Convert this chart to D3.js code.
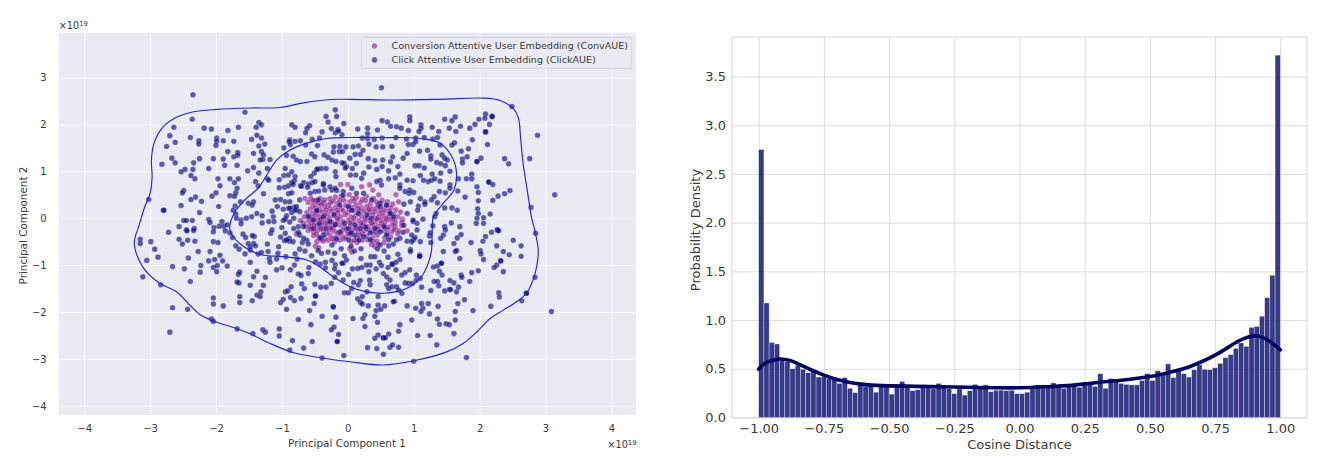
<!DOCTYPE html>
<html>
<head>
<meta charset="utf-8">
<script src="https://cdn.jsdelivr.net/npm/d3@7"></script>
<style>
html,body{margin:0;padding:0;background:#fff}
svg{display:block}
text{font-family:"DejaVu Sans",sans-serif;fill:#3a3a3a}
</style>
</head>
<body>
<svg id="fig" width="1326" height="471"></svg>
<script>
// Principal component coordinates, in units of 1e19.
const clickPoints = [
[-2.35,2.63],[-2.36,2.11],[-2.64,1.94],[-2.70,1.76],[-2.62,1.62],[-2.75,1.53],[-2.67,1.28],[-2.62,1.18],[-2.82,1.15],[-3.02,0.40],[-2.80,.17],[-2.79,.17],[-2.39,1.72],[-2.26,1.65],[-2.26,1.58],[-2.18,1.92],[-2.07,1.90],[-1.82,1.87],[-1.66,1.94],[-1.99,1.71],[-1.99,1.64],[-2.0,1.55],[-1.89,1.65],[-1.73,1.64],[-1.56,2.26],[-1.46,1.68],[-1.38,1.77],[-1.31,1.71],[-1.39,1.94],[-1.35,2.04],[-1.31,1.99],[-1.26,1.58],[-1.35,1.54],[-1.82,1.42],[-1.67,1.40],[-1.67,1.34],[-1.89,1.26],[-2.04,1.27],[-2.25,1.27],[-2.34,1.18],[-2.35,1.04],[-2.47,1.04],[-2.53,.99],[-2.38,.91],[-2.32,.84],[-2.11,1.06],[-1.87,1.13],[-1.68,1.13],[-1.73,1.31],[-1.43,1.38],[-1.31,1.42],[-1.28,1.35],[-1.29,1.25],[-1.33,1.24],[-1.43,1.08],[-1.52,1.01],[-1.35,.96],[-1.22,1.06],[-1.18,1.25],[-1.97,.84],[-1.94,.69],[-1.79,.84],[-1.72,.76],[-1.66,.84],[-1.68,.64],[-1.70,.54],[-1.79,.48],[-1.72,.47],[-2.0,.54],[-2.06,.47],[-2.49,.59],[-2.51,.54],[-2.31,.45],[-2.38,.40],[-2.22,.36],[-2.53,.27],[-1.96,.25],[-2.25,.12],[-2.49,-.05],[-2.45,-.05],[-2.36,-.05],[-2.11,-.03],[-2.09,-.09],[-1.91,-.07],[-1.95,-.17],[-1.88,-.17],[-1.83,-.14],[-2.56,-.18],[-2.45,-.25],[-2.33,-.22],[-2.03,-.2],[-1.63,.35],[-1.71,.26],[-1.74,.17],[-1.70,.09],[-1.69,0],[-1.51,.32],[-1.43,.35],[-1.45,.28],[-1.62,-.04],[-1.62,-.12],[-1.54,0],[-1.46,.03],[-1.38,.10],[-1.30,.05],[-1.30,-.10],[-1.20,-.07],[-1.13,.03],[-1.12,-.07],[-1.15,.15],[-1.28,.52],[-1.40,.78],[-1.36,.69],[-1.22,.84],[-1.20,.81],
[-.19,2.31],[-.33,2.17],[-.17,2.17],[-.30,2.05],[-.06,2.02],[-.85,1.99],[-.80,1.94],[-.58,1.97],[-.62,1.91],[-.64,1.82],[-.39,1.84],[-.25,1.91],[-.15,1.89],[-.19,1.82],[-.09,1.78],[-.14,1.86],[-.88,1.67],[-.89,1.63],[-.80,1.64],[-.72,1.65],[-.54,1.68],[-.43,1.71],[-.97,1.50],[-.87,1.57],[-.64,1.56],[-.46,1.55],[-.93,1.34],[-.83,1.32],[-.78,1.24],[-.72,1.21],[-.62,1.21],[-.55,1.37],[-.50,1.31],[-.36,1.35],[-.30,1.30],[-.24,1.24],[-.18,1.21],[-.21,1.52],[-.22,1.41],[-.12,1.53],[-.13,1.42],[-.03,1.52],[-.08,1.42],[-.09,1.18],[-.06,1.17],[-.02,1.10],[-.95,1.06],[-.40,1.06],[-.33,1.06],[-.45,1.05],[-.51,.96],[-.47,1.04],[-.19,.99],[-.18,.89],[-.04,1.07],[-.97,.91],[-.90,.92],[-.85,.99],[-.80,.89],[-.81,.80],[-.85,.76],[-1.04,.82],[-1.04,.65],[-.96,.66],[-.90,.69],[-.83,.72],[-.72,.69],[-.67,.76],[-.60,.73],[-.61,.66],[-.70,.68],[-.54,.76],[-.90,.52],[-.85,.54],[-.37,.74],[-.24,.6],[-.17,.59],[-.07,.57],[-.50,.57],[-.44,.58],[-.35,.6],[-.57,.53],[-1.10,.39],[-1.02,.40],[-1.07,.25],[-.98,.19],[-.90,.21],[-.82,.23],[-.78,.18],[-.82,0],[-.73,.39],[-.98,-.05],[-.88,-.08],[-.95,-.02],[-.75,-.18],
[-3.15,-.45],[-3.15,-.54],[-2.99,-.5],[-2.93,-.66],[-3.05,-.90],[-2.88,-.83],[-3.11,-1.25],[-2.84,-1.42],[-2.66,-1.03],[-2.48,-1.08],[-2.66,-1.91],[-2.43,-1.94],[-2.70,-2.43],[-2.39,-1.35],[-2.42,-.85],[-2.27,-.71],[-2.56,-.45],[-2.51,-.55],[-2.43,-.47],[-2.32,-.49],[-2.72,-.30],[-2.44,-.27],[-2.34,-.26],[-2.04,-.50],[-1.97,-.52],[-2.09,-.71],[-1.94,-.79],[-2.02,-.88],[-1.90,-.91],[-2.11,-.91],[-2.23,-1.01],[-2.04,-1.05],[-1.98,-1.01],[-1.83,-1.02],[-2.24,-1.15],[-1.99,-1.14],[-2.04,-1.70],[-2.04,-1.83],[-1.89,-1.87],[-2.07,-2.15],[-2.04,-2.20],[-1.68,-2.36],[-1.44,-2.46],[-1.29,-2.38],[-1.25,-2.43],[-1.04,-2.36],[-1.04,-2.51],[-.84,-2.61],[-.88,-2.81],[-.67,-2.77],[-.54,-2.63],[-.39,-2.98],[-.06,-2.93],[-.16,-2.63],[-.16,-2.63],[-.21,-2.32],[-.25,-2.38],[-.14,-2.48],[-.75,-2.16],[-.56,-2.27],[-.39,-2.09],[-.18,-2.11],[-.22,-1.89],[-.22,-1.89],[-.58,-1.97],[-.93,-1.94],[-.51,-1.82],[-.49,-1.66],[-.49,-1.66],[-.71,-1.71],[-1.02,-1.80],[-.98,-1.73],[-.87,-1.69],[-.81,-1.76],[-.95,-1.57],[-.91,-1.55],[-.86,-1.46],[-.66,-1.50],[-.70,-1.40],[-.50,-1.41],[-.41,-1.47],[-.33,-1.47],[-.25,-1.39],[-.05,-1.59],[.01,-1.59],[-1.64,-1.67],[-1.64,-1.80],[-1.45,-1.76],[-1.38,-1.64],[-1.33,-1.67],[-1.32,-1.57],[-1.28,-1.43],[-1.48,-1.43],[-1.65,-1.38],[-1.68,-1.36],[-1.66,-1.2],[-1.64,-1.15],[-1.38,-1.13],[-1.43,-1.25],[-1.25,-1.26],[-1.08,-1.1],[-1.0,-1.06],[-.87,-1.1],[-.81,-1.0],[-.75,-1.19],[-.71,-1.22],[-.6,-1.18],[-.59,-1.05],[-.49,-.93],[-.42,-.98],[-.34,-.94],[-.34,-1.06],[-.24,-.90],[-.19,-.99],[-.2,-1.08],[-.14,-1.16],[-.2,-1.26],[-.07,-1.32],[.01,-1.2],[-.07,-.96],[-.09,-.96],[-.02,-.89],[-1.48,-.94],[-1.65,-.66],[-1.70,-.59],[-1.56,-.76],[-1.48,-.68],[-1.36,-.76],[-1.31,-.73],[-1.21,-.71],[-1.06,-.75],[-1.19,-.86],[-1.18,-.94],[-1.08,-.87],[-.94,-.82],[-.77,-.87],[-.80,-.76],[-.73,-.66],[-.45,-.69],[-1.05,-.61],[-.96,-.48],[-.89,-.43],[-.89,-.49],[-.69,-.52],[-.62,-.47],[-1.22,-.55],[-1.51,-.54],[-1.43,-.54],[-1.40,-.59],[-1.48,-.61],[-1.42,-.39],[-1.45,-.37],[-1.55,-.41],[-1.59,-.34],[-1.17,-.32],[-1.75,-.41],[-1.86,-.27],[-1.79,-.31],[-2.04,-.29],
[.51,2.78],[2.49,2.38],[2.88,1.77],[2.19,2.17],[2.19,2.17],[2.09,2.22],[2.08,2.13],[1.99,2.11],[2.15,2.0],[2.09,1.84],[2.09,1.84],[1.93,2.0],[1.85,1.92],[1.89,1.67],[1.63,2.16],[1.58,2.08],[1.47,2.11],[1.71,1.96],[1.54,1.92],[1.64,1.85],[1.38,1.85],[1.28,1.94],[1.11,1.99],[1.11,1.92],[1.08,1.85],[.92,1.87],[.94,2.16],[.94,2.08],[.52,2.08],[.60,2.05],[.65,1.96],[.74,1.95],[.81,1.92],[.15,1.90],[.30,1.92],[.30,1.80],[.45,1.88],[.22,1.71],[.30,1.70],[.40,1.68],[.52,1.71],[.73,1.72],[.89,1.69],[1.03,1.71],[1.16,1.72],[1.29,1.69],[1.36,1.72],[.92,1.57],[.99,1.57],[1.03,1.63],[.32,1.58],[.43,1.52],[.53,1.52],[.67,1.53],[1.09,1.43],[1.21,1.45],[1.62,1.61],[1.58,1.56],[2.12,1.57],[1.83,1.48],[1.72,1.43],[1.40,1.56],[1.43,1.35],[1.51,1.24],[1.47,1.28],[1.26,1.33],[1.26,1.26],[1.74,1.26],[1.74,1.18],[1.81,1.31],[1.96,1.21],[1.96,1.21],[2.02,1.28],[2.38,1.27],[2.44,1.16],[2.76,1.27],[.90,1.38],[.84,1.28],[.68,1.31],[.08,1.52],[.16,1.54],[.23,1.45],[.19,1.36],[.11,1.36],[.03,1.28],[.13,1.17],[.31,1.27],[.41,1.23],[.53,1.24],[.65,1.2],[.32,1.09],[.44,1.04],[.52,1.10],[.62,1.01],[.76,1.10],[1.02,1.12],[1.08,1.12],[1.16,1.07],[1.35,1.19],[1.41,1.16],[1.48,1.12],[1.55,1.0],[1.41,.96],[1.28,.94],[1.10,.91],[1.15,.81],[1.22,.78],[1.27,.81],[1.32,.84],[1.40,.79],[.79,.94],[.72,.86],[.62,.84],[.49,.81],[.51,.71],[.44,.78],[.21,.85],[.24,.96],[.12,.92],[.07,1.06],[.04,.92],[.99,.80],[.90,.81],[.79,.71],[.79,.64],[1.55,.71],[1.55,.64],[1.68,.84],[1.80,.84],[1.88,.94],[1.88,.84],[1.96,.67],[1.98,.55],[1.78,.45],[1.67,.58],[2.14,.77],[2.14,.77],[2.2,.72],[2.46,.59],[2.38,.52],[2.28,.47],[2.2,.38],[3.14,.50],[2.78,.23],[1.98,.37],[1.97,.2],[1.98,.1],[1.96,0],[2.16,.09],[2.06,.01],[1.47,.22],[1.58,.22],[1.66,.17],[1.57,-.1],[1.48,.54],[1.39,.57],[1.31,.46],[1.36,.33],[1.27,.39],[1.17,.35],[1.17,.30],[1.07,.26],[1.06,.17],[.94,.6],[.93,.53],[.87,.57],[.99,-.07],[1.05,-.11],[1.14,-.02],[1.32,.03],[1.34,.1],[1.29,-.16],[1.47,-.18],[1.7,-.18],[1.95,-.11],[2.06,-.11],[2.27,-.25],[2.27,-.25],
[3.09,-1.99],[2.71,-1.6],[2.71,-1.6],[2.64,-1.76],[2.84,-1.26],[2.85,-.32],[2.63,-.59],[2.63,-.81],[2.51,-.47],[2.45,-.78],[2.36,-.71],[2.32,-.91],[2.32,-.91],[2.36,-1.14],[2.26,-1.0],[2.22,-1.05],[2.29,-1.59],[2.30,-1.68],[2.17,-1.88],[1.80,-2.97],[1.0,-3.05],[.54,-2.9],[.30,-2.76],[.44,-2.78],[.64,-2.75],[.68,-2.7],[.77,-2.75],[1.35,-2.7],[1.06,-2.5],[1.25,-2.5],[1.61,-2.46],[.54,-2.55],[.54,-2.55],[.57,-2.55],[.62,-2.47],[.46,-2.49],[.41,-2.56],[.77,-2.41],[.79,-2.27],[.26,-2.31],[.97,-2.17],[1.36,-2.15],[1.39,-2.26],[1.49,-2.25],[1.54,-2.27],[1.63,-2.17],[1.90,-1.97],[1.63,-1.99],[1.77,-1.74],[1.67,-1.82],[1.37,-1.88],[1.24,-2.04],[1.22,-1.82],[1.14,-1.92],[1.11,-1.99],[1.03,-1.92],[.90,-1.87],[1.12,-1.82],[.71,-1.77],[.46,-1.67],[.46,-1.85],[.43,-1.97],[.50,-1.94],[.56,-1.87],[.41,-2.09],[.45,-2.22],[.26,-2.06],[.23,-2.14],[.08,-2.14],[.15,-1.72],[.19,-1.79],[.22,-1.83],[.31,-1.87],[.22,-1.67],[1.26,-1.54],[1.12,-1.47],[1.47,-1.55],[1.54,-1.52],[1.56,-1.52],[1.65,-1.57],[1.68,-1.47],[1.31,-1.35],[1.36,-1.35],[1.38,-1.44],[1.55,-1.33],[1.61,-1.38],[1.85,-1.35],[1.72,-1.21],[1.73,-1.26],[1.88,-1.16],[1.98,-1.12],[1.39,-1.13],[1.43,-1.21],[1.30,-1.04],[1.36,-1.02],[1.42,-.96],[1.42,-.96],[1.70,-.86],[1.63,-.71],[1.65,-.69],[1.45,-.71],[1.09,-.81],[1.09,-.81],[2.01,-.69],[2.02,-.76],[2.06,-.88],[1.87,-.52],[2.05,-.49],[2.09,-.39],[2.26,-.59],[1.61,-.54],[1.66,-.42],[1.72,-.35],[2.18,-.3],[2.29,-.27],[1.45,-.36],[1.41,-.43],[1.48,-.25],[1.26,-.52],[1.24,-.38],[1.25,-.31],[1.10,-.50],[1.0,-.46],[.95,-.67],[.95,-.71],[.90,-.49],[.79,-.43],[.69,-.55],[.62,-.59],[.76,-.77],[.79,-.88],[.68,-.98],[.73,-.94],[.61,-.83],[.84,-.3],[1.02,-.41],[1.04,-1.21],[1.04,-1.32],[1.1,-1.28],[.87,-1.16],[.82,-1.21],[.94,-1.1],[.73,-1.1],[.61,-1.05],[.67,-.98],[.54,-1.18],[.59,-1.25],[.64,-1.32],[.59,-1.42],[.62,-1.5],[.67,-1.46],[.74,-1.46],[.77,-1.53],[.82,-1.6],[.87,-1.38],[.92,-1.39],[.98,-1.39],[.69,-1.78],[.48,-.94],[.51,-1.01],[.43,-1.08],[.34,-1.0],[.28,-1.0],[.21,-1.05],[.15,-1.07],[.07,-1.08],[.32,-1.14],[.2,-.86],[.35,-.82],[.41,-.82],[.19,-1.33],[.16,-1.42],[.09,-1.37],[.33,-1.32],[.34,-1.42],[.29,-1.57],[.06,-1.5],
[-.56,.89],[-.5,.78],[-.37,.71],[-.27,.67],[-.19,.64],[-.07,.49],[.06,.64],[.13,.53],[.24,.53],[.36,.39],[.49,.32],[.59,.28],[.69,.03],[.64,.10],[.49,.25],[-.27,-.07],[-.19,-.14],[.01,-.22],[.11,-.14],[.19,-.22],[-.24,-.57],[.01,-.46],[-.37,.03],[-.52,-.04],[-.52,-.22],[-.67,-.18],[-.73,-.36],[-.67,-.43],[-.83,-.5],[-.93,-.46],[-.80,.17],[-.78,.25],[-.88,.21],[-.95,.35],[-.73,.14],[.49,-.29],[.41,-.22],[.62,-.46],[.59,-.36],[.74,-.46],[.97,-.5],[.97,-.36],[.99,-.04],[1.05,-.25],[.01,.25],[.29,.07],[-.12,.28],[.16,.10],[.36,0],[.11,-.36],[-.12,-.29],[.24,-.39],[.34,-.46],[.49,-.57],[-.37,-.36],[-.47,.17],[-.45,.39],
[-.88,.35],[-.93,.05],[-.85,.12],[-1.0,-.2],[-1.15,-.25],[-.82,-.22],[-.95,-.32],[-1.02,-.4],[-.75,-.3],[-.60,-.55],[-.65,-.7],[-.55,-.8],[-.4,-.75],[-.3,-.72],[-.2,-.75],[-.1,-.65],[-.05,-.8],[.1,-.7],[.2,-.65],[.05,-.6],[.45,-.65],[.55,-.7],[.85,-.15],[.9,.1],[.85,.3],[.95,.35],[1.1,.42],[1.0,.55],
[-.43,-.12],[-.33,-.22],[-.05,-.11],[.05,-.31],[.27,-.19],[.34,-.31],[-.21,.08],[.06,.17],[-.42,-.42],[-.17,-.44],[.17,-.47],[-.6,.04],[.55,-.18]
];

const convPoints = [
[-.11,.72],[0,.72],[.21,.67],[.33,.71],[.38,.60],[.47,.50],[.73,.50],[.77,.35],[-.65,.42],[-.56,.42],[-.49,.36],[-.42,.42],[-.35,.39],[-.27,.42],[-.19,.45],[-.10,.47],[.02,.50],[.13,.44],[.28,.46],[.39,.42],
[-.60,.34],[-.53,.28],[-.45,.31],[-.37,.34],[-.30,.28],[-.22,.36],[-.15,.31],[-.06,.38],[.03,.35],[.10,.36],[.19,.33],[.27,.37],[.34,.30],[.43,.35],[.52,.38],[.60,.35],[.68,.30],
[-.57,.20],[-.50,.22],[-.43,.20],[-.35,.25],[-.27,.21],[-.19,.23],[-.10,.20],[-.03,.27],[.06,.24],[.13,.27],[.21,.22],[.29,.25],[.37,.20],[.44,.22],[.56,.20],[.65,.22],[.73,.18],[.80,.13],
[-.62,.12],[-.54,.10],[-.46,.12],[-.39,.14],[-.31,.10],[-.24,.15],[-.15,.11],[-.07,.16],[0,.12],[.09,.17],[.18,.14],[.25,.15],[.33,.13],[.41,.14],[.48,.10],[.55,.13],[.63,.15],[.70,.08],
[-.66,.03],[-.58,.02],[-.50,.05],[-.43,.03],[-.35,.06],[-.27,.02],[-.20,.05],[-.11,.03],[-.04,.07],[.05,.03],[.12,.06],[.21,.04],[.30,.02],[.38,.07],[.46,.02],[.53,.05],[.61,.03],[.76,.03],[.83,-.02],
[-.72,-.05],[-.60,-.06],[-.55,-.10],[-.46,-.05],[-.39,-.08],[-.31,-.04],[-.24,-.09],[-.15,-.05],[-.07,-.07],[.01,-.04],[.08,-.08],[.17,-.05],[.25,-.09],[.33,-.05],[.42,-.07],[.50,-.04],[.57,-.07],[.64,-.04],[.72,-.09],
[-.64,-.16],[-.58,-.17],[-.46,-.15],[-.38,-.19],[-.30,-.14],[-.22,-.19],[-.12,-.15],[-.05,-.19],[.05,-.15],[.14,-.19],[.22,-.15],[.30,-.18],[.38,-.14],[.46,-.17],[.55,-.15],[.62,-.19],[.72,-.18],[.82,-.16],
[-.60,-.26],[-.52,-.29],[-.45,-.25],[-.37,-.27],[-.27,-.25],[-.20,-.28],[-.08,-.26],[0,-.30],[.07,-.26],[.16,-.29],[.25,-.27],[.33,-.25],[.38,-.30],[.47,-.24],[.55,-.27],[.67,-.29],[.76,-.33],[.90,-.27],
[-.78,-.34],[-.52,-.37],[-.44,-.40],[-.35,-.43],[-.27,-.36],[-.19,-.41],[-.10,-.36],[-.03,-.40],[.05,-.36],[.14,-.43],[.18,-.37],[.29,-.38],[.38,-.41],[.45,-.36],[.56,-.42],[.65,-.40],
[-.47,-.50],[-.37,-.49],[-.30,-.47],[-.20,-.50],[-.12,-.47],[.05,-.50],[.14,-.52],[.22,-.47],[.38,-.49],[.44,-.49],[.36,-.56],[.41,-.60],[.46,-.55],[.55,-.52],
[-.49,-.60],[-.44,-.63],[.03,-.65],[.06,-.72],[1.09,-.78],[.77,-.27],[.82,-.09],
[-.52,.38],[-.40,.30],[-.26,.33],[-.12,.38],[.08,.42],[.22,.40],[.46,.28],[.58,.28],[-.48,.15],[-.33,.18],[-.16,.17],[.02,.20],[.16,.20],[.32,.19],[.50,.17],[.66,.10],[-.54,-.02],[-.41,-.02],[-.16,.0],[.09,.0],[.26,-.01],[.44,-.01],[.58,-.01],[.70,-.02],[-.68,-.10],[-.51,-.14],[-.34,-.11],[-.18,-.12],[.03,-.10],[.20,-.11],[.36,-.10],[.51,-.11],[.68,-.13],[-.56,-.22],[-.41,-.22],[-.25,-.21],[-.02,-.23],[.12,-.22],[.28,-.23],[.43,-.21],[.60,-.23],[.70,-.24],[-.48,-.33],[-.32,-.32],[-.15,-.32],[.02,-.33],[.22,-.33],[.42,-.30],[.60,-.33],[-.40,-.46],[-.24,-.44],[-.06,-.44],[.10,-.47],[.30,-.46]
];

// Contour levels traced around the click embeddings, in the same units.
const outerContour = [
[-3.19,-.25],[-3.08,.25],[-3.0,.53],[-2.97,.88],[-2.98,1.24],[-2.94,1.60],[-2.80,1.95],[-2.60,2.15],[-2.34,2.27],[-1.99,2.32],[-1.48,2.35],[-1.03,2.36],[-.67,2.46],[-.27,2.53],[.03,2.535],[.69,2.52],[1.40,2.535],[2.06,2.56],[2.31,2.51],[2.51,2.34],[2.59,2.13],[2.62,1.74],[2.66,1.17],[2.73,.53],[2.79,0],[2.84,-.27],[2.89,-.68],[2.87,-1.0],[2.81,-1.32],[2.71,-1.6],[2.56,-1.78],[2.36,-1.96],[2.16,-2.14],[1.96,-2.42],[1.75,-2.67],[1.50,-2.85],[1.0,-3.04],[.54,-3.13],[.03,-3.06],[-.39,-2.98],[-.82,-2.87],[-1.18,-2.67],[-1.49,-2.46],[-1.69,-2.35],[-2.04,-2.19],[-2.24,-2.06],[-2.40,-1.85],[-2.60,-1.57],[-2.85,-1.39],[-3.08,-1.1],[-3.21,-.75],[-3.24,-.54],[-3.21,-.32]
];
const innerContour = [
[-1.79,-.25],[-1.77,-.04],[-1.69,.18],[-1.54,.42],[-1.36,.64],[-1.23,.92],[-1.08,1.24],[-.88,1.45],[-.62,1.60],[-.32,1.70],[.03,1.72],[.54,1.72],[1.10,1.70],[1.40,1.60],[1.58,1.31],[1.65,.96],[1.61,.6],[1.45,.32],[1.30,.03],[1.28,-.28],[1.27,-.68],[1.21,-1.0],[1.10,-1.28],[.89,-1.50],[.54,-1.6],[.29,-1.57],[.03,-1.46],[-.22,-1.25],[-.47,-1.0],[-.62,-.89],[-.98,-.82],[-1.28,-.79],[-1.48,-.69],[-1.64,-.54],[-1.74,-.39]
];

// Cosine distance histogram: 100 bins spanning -1 to 1.
const binDensity = [
2.75,1.176,.77,.755,.59,.575,.50,.535,.495,.46,.47,.415,.42,.40,.39,.35,.41,.30,.255,.35,
.32,.33,.26,.32,.34,.24,.315,.37,.315,.275,.285,.335,.315,.30,.35,.315,.295,.245,.30,.23,
.275,.34,.315,.335,.265,.28,.28,.275,.28,.245,.245,.26,.31,.335,.31,.32,.355,.31,.30,.33,
.33,.31,.34,.34,.32,.45,.30,.40,.375,.35,.34,.335,.335,.38,.45,.38,.48,.445,.55,.41,
.49,.45,.415,.49,.54,.495,.49,.51,.555,.615,.645,.71,.765,.73,.925,.935,1.04,1.23,1.46,3.72
];
const kdeDistance = [-1,-.98,-.95,-.92,-.88,-.84,-.80,-.75,-.70,-.65,-.60,-.55,-.50,-.40,-.30,-.20,-.10,0,.10,.20,.25,.30,.40,.50,.57,.64,.70,.75,.80,.83,.86,.90,.93,.96,.98,1];
const kdeDensity = [.496,.55,.585,.60,.585,.54,.49,.435,.39,.36,.34,.33,.325,.32,.315,.31,.305,.305,.315,.33,.345,.36,.385,.42,.46,.51,.575,.64,.72,.77,.81,.838,.825,.78,.74,.695];

const xTicksPca = [-4,-3,-2,-1,0,1,2,3,4];
const yTicksPca = [-4,-3,-2,-1,0,1,2,3];
const xTicksHist = [-1,-.75,-.5,-.25,0,.25,.5,.75,1];
const yTicksHist = [0,.5,1,1.5,2,2.5,3,3.5];

const legendLabels = ["Conversion Attentive User Embedding (ConvAUE)","Click Attentive User Embedding (ClickAUE)"];
const navy = "#000080", violet = "#800080";

const svg = d3.select("#fig");

/* ---------- PCA scatter ---------- */
const pL = 58.7, pR = 636, pT = 32.7, pB = 415;
const px = d3.scaleLinear().domain([-4.387,4.373]).range([pL,pR]);
const py = d3.scaleLinear().domain([-4.196,3.955]).range([pB,pT]);

const left = svg.append("g");
left.append("rect").attr("x",pL).attr("y",pT).attr("width",pR-pL).attr("height",pB-pT).attr("fill","#eaeaf2");

const pxAxis = left.append("g").attr("transform",`translate(0,${pB})`)
  .call(d3.axisBottom(px).tickValues(xTicksPca).tickFormat(d3.format("d")).tickSize(-(pB-pT)).tickPadding(10));
const pyAxis = left.append("g").attr("transform",`translate(${pL},0)`)
  .call(d3.axisLeft(py).tickValues(yTicksPca).tickFormat(d3.format("d")).tickSize(-(pR-pL)).tickPadding(12));
[pxAxis,pyAxis].forEach(a=>{
  a.select(".domain").remove();
  a.selectAll(".tick line").attr("stroke","#fff").attr("stroke-opacity",.7).attr("stroke-width",1);
  a.selectAll("text").attr("font-size",10).attr("fill","#3a3a3a").style("font-family",'"DejaVu Sans"');
});

const dot = (g,data,color,op)=>g.append("g").selectAll("circle").data(data).join("circle")
  .attr("cx",d=>px(d[0])).attr("cy",d=>py(d[1])).attr("r",2.8)
  .attr("fill",color).attr("fill-opacity",op)
  .attr("stroke","#fff").attr("stroke-opacity",.4).attr("stroke-width",.5);
dot(left,convPoints,violet,.55);
dot(left,clickPoints,navy,.62);

const contour = d3.line().x(d=>px(d[0])).y(d=>py(d[1])).curve(d3.curveCatmullRomClosed.alpha(.5));
left.append("g").selectAll("path").data([outerContour,innerContour]).join("path")
  .attr("d",contour).attr("fill","none").attr("stroke","#2222ee").attr("stroke-width",1.15);

left.append("text").attr("x",347).attr("y",447).attr("text-anchor","middle").attr("font-size",10.4)
  .text("Principal Component 1");
left.append("text").attr("transform","translate(27,225.5) rotate(-90)").attr("text-anchor","middle").attr("font-size",10.4)
  .text("Principal Component 2");

const offsetLabel = (x,y,anchor)=>{
  const t = left.append("text").attr("x",x).attr("y",y).attr("font-size",9.7).attr("text-anchor",anchor);
  t.append("tspan").text("×10");
  t.append("tspan").attr("dy",-3.5).attr("font-size",6.8).text("19");
};
offsetLabel(58.7,29,"start");
offsetLabel(636.5,448,"end");

const lg = left.append("g");
lg.append("rect").attr("x",361.7).attr("y",37.3).attr("width",270).attr("height",31).attr("rx",2)
  .attr("fill","#eaeaf2").attr("fill-opacity",.8).attr("stroke","#d0d0d6").attr("stroke-width",.8);
legendLabels.forEach((label,i)=>{
  const yy = 46 + i*13.9;
  lg.append("circle").attr("cx",374.5).attr("cy",yy).attr("r",2.8)
    .attr("fill",i===0?violet:navy).attr("fill-opacity",i===0?.55:.62)
    .attr("stroke","#fff").attr("stroke-opacity",.4).attr("stroke-width",.5);
  lg.append("text").attr("x",391.5).attr("y",yy+3.4).attr("font-size",9.55).text(label);
});

/* ---------- Cosine distance histogram ---------- */
const hL = 732, hR = 1307, hT = 37, hB = 417.5;
const hx = d3.scaleLinear().domain([-1.1024,1.1024]).range([hL,hR]);
const hy = d3.scaleLinear().domain([0,3.906]).range([hB,hT]);

const right = svg.append("g");
const hxAxis = right.append("g").attr("transform",`translate(0,${hB})`)
  .call(d3.axisBottom(hx).tickValues(xTicksHist).tickFormat(d3.format(".2f")).tickSize(-(hB-hT)).tickPadding(6));
const hyAxis = right.append("g").attr("transform",`translate(${hL},0)`)
  .call(d3.axisLeft(hy).tickValues(yTicksHist).tickFormat(d3.format(".1f")).tickSize(-(hR-hL)).tickPadding(6));
[hxAxis,hyAxis].forEach(a=>{
  a.select(".domain").remove();
  a.selectAll(".tick line").attr("stroke","#dcdcdc").attr("stroke-width",1);
  a.selectAll("text").attr("font-size",13).attr("fill","#3a3a3a").style("font-family",'"DejaVu Sans"');
});
right.append("rect").attr("x",hL).attr("y",hT).attr("width",hR-hL).attr("height",hB-hT)
  .attr("fill","none").attr("stroke","#dcdcdc").attr("stroke-width",1.2);

const binEdges = d3.range(binDensity.length).map(i=>-1+i*.02);
right.append("g").selectAll("rect").data(binDensity).join("rect")
  .attr("x",(d,i)=>hx(binEdges[i])).attr("width",(d,i)=>hx(binEdges[i]+.02)-hx(binEdges[i]))
  .attr("y",d=>hy(d)).attr("height",d=>hB-hy(d))
  .attr("fill","#0a106e").attr("fill-opacity",.82)
  .attr("stroke","#fff").attr("stroke-opacity",.55).attr("stroke-width",.6);

const kdeLine = d3.line().x(d=>hx(d[0])).y(d=>hy(d[1])).curve(d3.curveCatmullRom.alpha(.5));
right.append("path").attr("d",kdeLine(kdeDistance.map((d,i)=>[d,kdeDensity[i]])))
  .attr("fill","none").attr("stroke","#000066").attr("stroke-width",3.6).attr("stroke-linecap","round");

right.append("text").attr("x",1019.5).attr("y",449).attr("text-anchor","middle").attr("font-size",13).text("Cosine Distance");
right.append("text").attr("transform","translate(700,230) rotate(-90)").attr("text-anchor","middle").attr("font-size",13).text("Probability Density");
</script>
</body>
</html>
